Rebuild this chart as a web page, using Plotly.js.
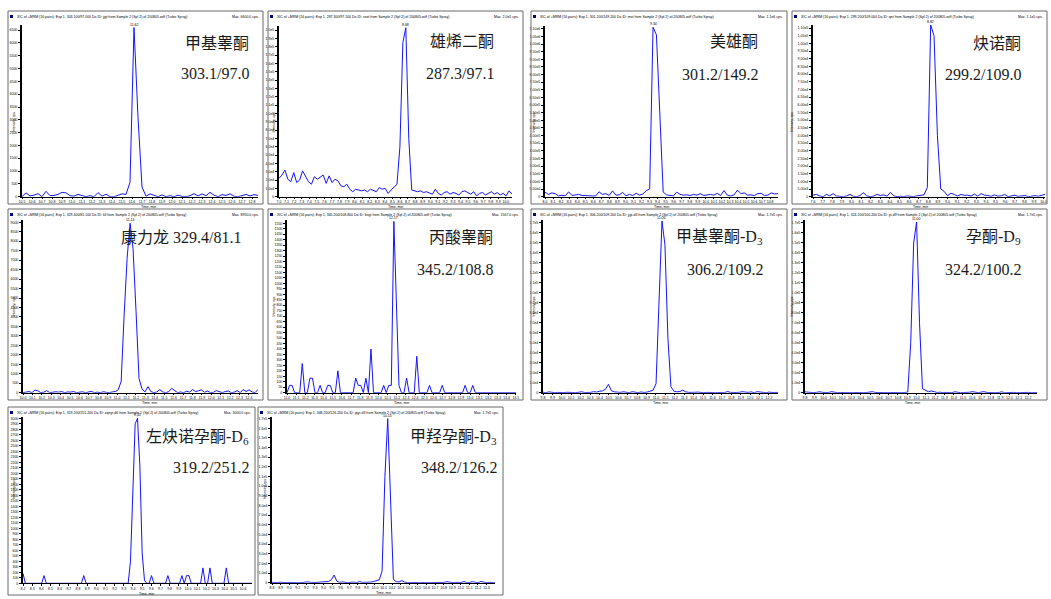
<!DOCTYPE html>
<html><head><meta charset="utf-8">
<script src="https://cdn.plot.ly/plotly-3.0.1.min.js"></script>
<style>html,body{margin:0;padding:0;background:#fff}#chart{width:1051px;height:599px}</style>
</head><body><div id="chart"></div>
<script>
// ---------------- data ----------------
const panelNames = ['甲基睾酮','雄烯二酮','美雄酮','炔诺酮','康力龙','丙酸睾酮','甲基睾酮-D','孕酮-D','左炔诺孕酮-D','甲羟孕酮-D'];
const labelSubs = ['','','','','','','3','9','6','3'];
const transitions = ['303.1/97.0','287.3/97.1','301.2/149.2','299.2/109.0','329.4/81.1','345.2/108.8','306.2/109.2','324.2/100.2','319.2/251.2','348.2/126.2'];
const sampleIds = ['jjgt','xxet','mxt','qnt','kll','bsgt','jjgt-d3','yt-d9','zqnyt-d6','jqyt-d3'];
const startTimes = [10.50, 7.00, 8.00, 7.60, 10.00, 11.00, 9.80, 9.80, 8.20, 8.80];
const scanSteps = [0.04, 0.039, 0.042, 0.035, 0.0316, 0.0278, 0.0316, 0.0316, 0.0255, 0.0329];

const p1 = [0,150,30,60,120,0,210,40,50,90,170,150,40,20,90,30,0,40,0,160,20,100,0,0,40,110,90,560,6600,3100,380,20,110,60,0,70,0,40,0,60,10,0,40,120,30,110,40,170,60,0,80,50,110,20,0,40,90,30,80,50];
const p2 = [22000,26000,32000,21000,18000,29000,17000,20000,31000,24000,18000,15000,24000,21000,23000,26000,16000,25000,17000,21000,19000,13000,12000,15000,9000,6000,9000,8000,7000,8000,6000,9000,7000,6000,11000,9000,10000,4000,8000,12000,15000,60000,185000,203000,70000,8000,7000,6000,7000,5000,6000,4000,3000,9000,4000,2000,5000,6000,3000,5000,4000,2000,6000,7000,5000,3000,6000,1000,4000,5000,2000,4000,6000,3000,5000,2000,4000,1000,7000,3000];
const p3 = [30000,15000,25000,20000,5000,10000,5000,32000,8000,12000,15000,8000,6000,3000,5000,5000,32000,15000,20000,8000,38000,10000,12000,28000,6000,15000,8000,22000,10000,18000,40000,50000,1110000,1060000,580000,30000,12000,8000,5000,30000,15000,10000,12000,8000,15000,10000,20000,8000,12000,15000,10000,22000,8000,40000,10000,5000,12000,43000,20000,25000,10000,12000,8000,20000,22000,8000,10000,25000,18000,20000];
const p4 = [1000,1500,500,0,1500,600,2000,400,300,0,500,1500,200,0,800,2600,500,0,400,1500,800,1200,300,2800,600,0,300,0,500,200,0,600,800,1200,6000,112000,105000,40000,5000,3500,600,2200,1500,400,1500,900,1000,400,1700,300,2000,1000,800,200,1200,300,600,1500,0,400,1000,200,600,800,0,500,700,300,800,1500];
const p5 = [0,40,60,0,140,100,0,30,110,0,20,50,30,60,0,40,30,60,0,40,50,0,30,70,0,30,0,50,20,0,40,60,150,600,4100,7100,8950,7600,4300,750,200,40,320,60,0,40,160,40,0,60,230,100,0,40,0,80,30,170,60,100,150,20,90,0,20,110,40,0,60,90,0,30,110,0,170,60,150,40,0,170];
const p6 = [0,67,67,0,0,0,267,0,0,133,133,0,0,67,0,0,67,67,0,0,200,0,0,0,0,0,0,133,67,67,0,133,0,400,0,0,0,0,67,0,67,67,1567,900,67,0,0,133,0,0,0,333,0,0,0,0,67,0,0,0,0,67,0,0,0,0,0,0,0,0,67,0,0,67,0,0,0,0,0,0,0,0,0,0,0,0,0,0,0,0,0];
const p7 = [500,0,800,200,0,300,0,100,400,0,200,0,100,900,200,0,300,1000,600,1500,1800,3500,8400,2000,800,600,300,900,400,0,1000,300,0,800,200,600,1500,2500,9000,100000,172000,148000,54000,6000,1500,800,1200,2500,800,300,0,400,600,200,0,300,500,200,0,400,200,0,1200,300,0,200,400,1000,600,300,800,0,1000,400,300,0,600,200,0,300];
const p8 = [800,300,200,0,400,900,300,0,200,1000,300,0,200,0,100,300,0,200,0,100,0,200,300,1000,200,0,300,0,100,200,0,100,300,0,200,600,50000,150000,171000,70000,4000,2500,1000,1800,600,200,500,0,300,100,0,900,300,0,200,0,400,1000,200,0,600,1000,200,0,300,0,200,900,0,200,0,300,0,200,100,0,300,0,200,100];
const p9 = [180,0,0,0,0,0,0,0,0,140,0,0,0,0,0,0,0,0,0,0,0,0,0,0,0,0,140,0,0,0,0,0,0,0,0,0,0,0,0,0,0,0,0,0,0,0,400,1500,2900,3000,2150,550,50,0,0,140,0,0,0,0,0,0,140,0,0,0,0,0,140,0,140,140,0,0,0,0,0,280,0,0,280,0,0,0,0,0,0,280,0,0,0,0,0,0,0,0,0,0,0];
const p10 = [300,0,200,500,0,100,300,0,200,0,100,300,0,800,200,0,300,600,1000,1500,1200,3000,7900,1500,300,800,200,0,400,600,0,1200,300,200,0,600,1200,1800,3000,12000,110000,170000,80000,3500,1000,800,2200,600,0,300,0,200,0,400,200,0,100,300,0,200,0,300,1000,200,0,300,0,200,1200,0,300,1000,400,0,1200,200,0,300,100,0];
const series = [p1,p2,p3,p4,p5,p6,p7,p8,p9,p10];

// ---------------- layout config (pixels) ----------------
const W = 1051, H = 599;
const plotBoxes = [
  [22,258,25,196.7],[279,512,26,196.7],[545,778,25.7,196.7],[813,1045,25,196.7],
  [23,258,220,392.7],[287,516,220,392.7],[543,778,220,392.7],[805,1037,220,392.7],
  [23,252,416.7,583.3],[272,495,416.7,582.7]
];
const frameBoxes = [
  [8,263,11,204],[268,523,11,204],[531,787,11,204],[792,1047,11,204],
  [8,263,209,400],[268,523,209,400],[531,787,209,400],[792,1047,209,400],
  [8,255,407,595],[258,503,407,595]
];
const yTop = [6700,205000,1120000,112000,9120,1580,173000,173000,3030,172000];
const yStep = [500,1e4,5e4,5000,500,50,1e4,1e4,100,1e4];
const yDigits = [0,1,2,2,0,0,1,1,0,1];   // decimals in mantissa; 0 => plain integer
const labelRight = [251,496,760,1023,243,495,765,1023,251,499];
const labelY1 = [43,42,42,43,238,238,238,238,437,437];
const labelY2 = [74,74,75,75,null,269,269,269,467,467];

const px = v => v / W;
const py = v => 1 - v / H;
const tiny = {family:'Liberation Sans, Arial, sans-serif', size:3.5, color:'#000'};
const bigFont = {family:'Liberation Serif, "Noto Sans CJK SC", serif', size:16, color:'#1a1a1a'};

function fmtMax(m){
  if (m >= 1e5) return m.toExponential(1).replace('+','');
  return m.toFixed(1);
}
function fmtTick(v, d){
  if (d === 0 || v === 0) return String(Math.round(v));
  return v.toExponential(d).replace('+','');
}

const traces = [];
const layout = {
  width: W, height: H, margin:{l:0,r:0,t:0,b:0},
  paper_bgcolor:'#fff', plot_bgcolor:'#fff', showlegend:false,
  annotations: [], shapes: []
};

series.forEach((s, i) => {
  const sfx = i === 0 ? '' : String(i+1);
  const n = s.length;
  const pb = plotBoxes[i], fb = frameBoxes[i];
  traces.push({
    type:'scatter', mode:'lines', x0:startTimes[i], dx:scanSteps[i], y:s,
    xaxis:'x'+sfx, yaxis:'y'+sfx, line:{color:'#1414ff', width:1}, hoverinfo:'skip'
  });
  const tv = [], tt = [];
  for (let k = 0; k * yStep[i] <= yTop[i]; k++) { tv.push(k*yStep[i]); tt.push(fmtTick(k*yStep[i], yDigits[i])); }
  layout['xaxis'+sfx] = {
    domain:[px(pb[0]), px(pb[1])], anchor:'y'+sfx,
    range:[startTimes[i], startTimes[i] + scanSteps[i]*(n-1)],
    dtick:0.1, tick0:0, tickformat:'.1f', tickangle:0,
    showgrid:false, zeroline:false, showline:true, linecolor:'#000', linewidth:1,
    ticks:'outside', ticklen:1.5, tickwidth:1, tickcolor:'#000', tickfont:tiny, fixedrange:true
  };
  layout['yaxis'+sfx] = {
    domain:[py(pb[3]), py(pb[2])], anchor:'x'+sfx,
    range:[0, yTop[i]], tickmode:'array', tickvals:tv, ticktext:tt,
    showgrid:false, zeroline:false, showline:true, linecolor:'#000', linewidth:2,
    ticks:'outside', ticklen:2, tickwidth:1, tickcolor:'#000', tickfont:tiny, fixedrange:true
  };
  // frame
  layout.shapes.push({type:'rect', xref:'paper', yref:'paper', x0:px(fb[0]), x1:px(fb[1]), y0:py(fb[3]), y1:py(fb[2]), line:{color:'#6a6a6a', width:1}});
  // legend square in header
  layout.shapes.push({type:'rect', xref:'paper', yref:'paper', x0:px(fb[0]+2), x1:px(fb[0]+5), y0:py(fb[2]+7), y1:py(fb[2]+4), line:{width:0}, fillcolor:'#000080'});
  // header texts
  const q = transitions[i].split('/');
  layout.annotations.push({xref:'paper', yref:'paper', x:px(fb[0]+8), y:py(fb[2]+5.5), xanchor:'left', yanchor:'middle', showarrow:false, font:tiny, borderpad:0,
    text:'XIC of +MRM (16 pairs): Exp 1, ' + parseFloat(q[0]).toFixed(3) + '/' + parseFloat(q[1]).toFixed(3) + ' Da ID: ' + sampleIds[i] + ' from Sample 2 (Spl 2) of 200805.wiff (Turbo Spray)'});
  const mx = Math.max.apply(null, s);
  const mi = s.indexOf(mx);
  layout.annotations.push({xref:'paper', yref:'paper', x:px(fb[1]-3), y:py(fb[2]+5.5), xanchor:'right', yanchor:'middle', showarrow:false, font:tiny, borderpad:0,
    text:'Max. ' + fmtMax(mx) + ' cps.'});
  // peak label
  const pt = startTimes[i] + scanSteps[i]*mi;
  layout.annotations.push({xref:'x'+sfx, yref:'y'+sfx, x:pt, y:mx, xanchor:'center', yanchor:'bottom', showarrow:false, font:tiny, borderpad:0, text:pt.toFixed(2), yshift:0});
  // axis titles
  layout.annotations.push({xref:'paper', yref:'paper', x:px(fb[0]+3.2), y:py((pb[2]+pb[3])/2), textangle:-90, showarrow:false, font:tiny, borderpad:0, text:'Intensity, cps'});
  layout.annotations.push({xref:'paper', yref:'paper', x:px((pb[0]+pb[1])/2), y:py(pb[3]+7.6), yanchor:'top', showarrow:false, font:tiny, borderpad:0, text:'Time, min'});
  // compound labels
  const nameText = panelNames[i] + (labelSubs[i] ? '<sub>' + labelSubs[i] + '</sub>' : '');
  if (labelY2[i] === null) {
    layout.annotations.push({xref:'paper', yref:'paper', x:px(labelRight[i]), y:py(labelY1[i]), xanchor:'right', yanchor:'middle', showarrow:false, font:bigFont, text:nameText + ' ' + transitions[i]});
  } else {
    layout.annotations.push({xref:'paper', yref:'paper', x:px(labelRight[i]), y:py(labelY1[i]), xanchor:'right', yanchor:'middle', showarrow:false, font:bigFont, text:nameText});
    layout.annotations.push({xref:'paper', yref:'paper', x:px(labelRight[i]), y:py(labelY2[i]), xanchor:'right', yanchor:'middle', showarrow:false, font:bigFont, text:transitions[i]});
  }
});

Plotly.newPlot('chart', traces, layout, {staticPlot:true, displayModeBar:false});
</script>
</body></html>
